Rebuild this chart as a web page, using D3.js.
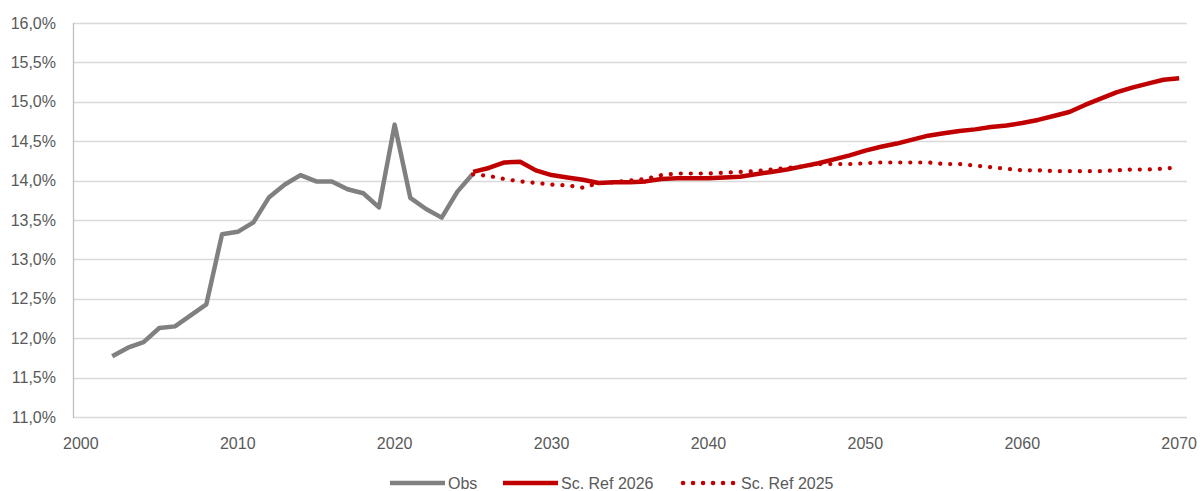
<!DOCTYPE html>
<html>
<head>
<meta charset="utf-8">
<script src="https://cdn.jsdelivr.net/npm/d3@7"></script>
<style>
body { margin: 0; background: #fff; }
svg { font-family: "Liberation Sans", Arial, sans-serif; }
</style>
</head>
<body>
<svg id="chart" width="1200" height="491"></svg>
<script>
const obs_years = d3.range(2002, 2026);
const obs_values = [11.77, 11.88, 11.95, 12.13, 12.15, 12.29, 12.43, 13.32, 13.35, 13.47,
	13.79, 13.95, 14.07, 13.99, 13.99, 13.89, 13.84, 13.66, 14.71, 13.78,
	13.64, 13.53, 13.86, 14.09];

const proj_years = d3.range(2025, 2071);
const ref2026_values = [14.11, 14.16, 14.23, 14.24, 14.13, 14.07, 14.04, 14.01, 13.97, 13.98,
	13.98, 13.99, 14.02, 14.03, 14.03, 14.03, 14.04, 14.05, 14.08, 14.11,
	14.14, 14.18, 14.22, 14.27, 14.32, 14.38, 14.43, 14.47, 14.52, 14.57,
	14.60, 14.63, 14.65, 14.68, 14.70, 14.73, 14.77, 14.82, 14.87, 14.96,
	15.04, 15.12, 15.18, 15.23, 15.28, 15.30];
const ref2025_values = [14.08, 14.06, 14.02, 13.99, 13.97, 13.95, 13.94, 13.91, 13.97, 13.98,
	14.00, 14.02, 14.07, 14.09, 14.09, 14.09, 14.10, 14.11, 14.12, 14.14,
	14.16, 14.18, 14.21, 14.21, 14.21, 14.22, 14.23, 14.23, 14.23, 14.23,
	14.21, 14.21, 14.19, 14.17, 14.15, 14.13, 14.13, 14.12, 14.12, 14.12,
	14.12, 14.13, 14.14, 14.14, 14.15, 14.17];

const y_ticks = d3.range(11, 16.01, 0.5);
const x_ticks = d3.range(2000, 2071, 10);

const series_names = ["Obs", "Sc. Ref 2026", "Sc. Ref 2025"];

const plot_left = 73, plot_right = 1187, plot_top = 23, plot_bottom = 417;
const text_color = "#595959";

const locale = d3.formatLocale({decimal: ",", thousands: ".", grouping: [3], currency: ["", "€"]});
const pct = locale.format(".1f");

const x = d3.scaleLinear().domain([1999.5, 2070.5]).range([plot_left, plot_right]);
const y = d3.scaleLinear().domain([11, 16]).range([plot_bottom, plot_top]);

const svg = d3.select("#chart");

// gridlines
svg.append("g")
	.selectAll("line")
	.data(y_ticks)
	.join("line")
	.attr("x1", plot_left)
	.attr("x2", plot_right)
	.attr("y1", d => Math.round(y(d)) + 0.5)
	.attr("y2", d => Math.round(y(d)) + 0.5)
	.style("stroke", "#d9d9d9")
	.style("stroke-width", 1.3);

svg.append("line")
	.attr("x1", plot_left + 0.5).attr("x2", plot_left + 0.5)
	.attr("y1", plot_top).attr("y2", plot_bottom + 1)
	.style("stroke", "#bfbfbf")
	.style("stroke-width", 1.3);

// y labels
svg.append("g")
	.selectAll("text")
	.data(y_ticks)
	.join("text")
	.attr("x", 56)
	.attr("y", d => y(d))
	.attr("dy", "0.35em")
	.attr("text-anchor", "end")
	.style("font-size", "16px")
	.style("fill", text_color)
	.text(d => pct(d) + "%");

// x labels
svg.append("g")
	.selectAll("text")
	.data(x_ticks)
	.join("text")
	.attr("x", d => x(d))
	.attr("y", 443)
	.attr("dy", "0.35em")
	.attr("text-anchor", "middle")
	.style("font-size", "16px")
	.style("fill", text_color)
	.text(d => d);

const line = d3.line()
	.x(d => x(d[0]))
	.y(d => y(d[1]));

svg.append("path")
	.datum(d3.zip(obs_years, obs_values))
	.attr("d", line)
	.style("fill", "none")
	.style("stroke", "#808080")
	.style("stroke-width", 4.5)
	.style("stroke-linejoin", "round");

svg.append("path")
	.datum(d3.zip(proj_years, ref2025_values))
	.attr("d", line)
	.style("fill", "none")
	.style("stroke", "#c00000")
	.style("stroke-width", 4.2)
	.style("stroke-linecap", "round")
	.style("stroke-dasharray", "0.1 9.9");

svg.append("path")
	.datum(d3.zip(proj_years, ref2026_values))
	.attr("d", line)
	.style("fill", "none")
	.style("stroke", "#c00000")
	.style("stroke-width", 4.5)
	.style("stroke-linejoin", "round");

// legend
const legend = [
	{name: series_names[0], x0: 390, color: "#808080", dash: null, cap: "butt"},
	{name: series_names[1], x0: 503, color: "#c00000", dash: null, cap: "butt"},
	{name: series_names[2], x0: 683, color: "#c00000", dash: "0.1 9.9", cap: "round"}
];
const lg = svg.append("g").selectAll("g").data(legend).join("g");
lg.append("line")
	.attr("x1", d => d.x0)
	.attr("x2", d => d.x0 + 55)
	.attr("y1", 483).attr("y2", 483)
	.style("stroke", d => d.color)
	.style("stroke-width", 4.5)
	.style("stroke-linecap", d => d.cap)
	.style("stroke-dasharray", d => d.dash);
lg.append("text")
	.attr("x", d => d.x0 + 58)
	.attr("y", 483)
	.attr("dy", "0.35em")
	.style("font-size", "16px")
	.style("fill", text_color)
	.text(d => d.name);
</script>
</body>
</html>
